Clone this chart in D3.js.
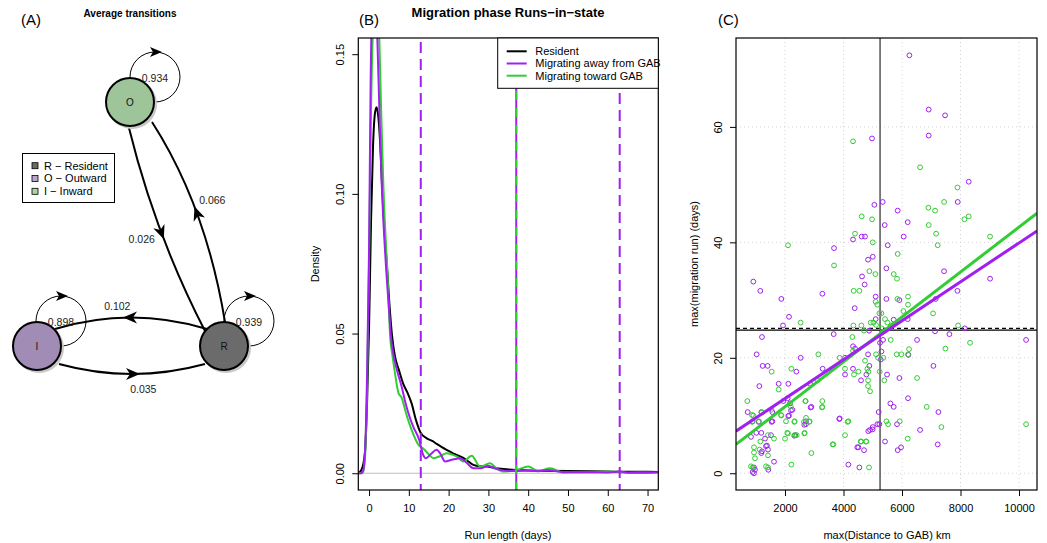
<!DOCTYPE html>
<html><head><meta charset="utf-8">
<script src="https://cdn.jsdelivr.net/npm/d3@7"></script>
<style>
body{margin:0;background:#fff;}
svg{display:block;font-family:"Liberation Sans",Arial,sans-serif;}
</style></head>
<body><svg id="c" width="1047" height="543"></svg>
<script>
// ---------------- DATA ----------------
// Panel A: transition probabilities
const stateNames = ["R", "O", "I"];
const legendLabels = ["R \u2212 Resident", "O \u2212 Outward", "I \u2212 Inward"];
const selfProb = {O: 0.934, I: 0.898, R: 0.939};
const transitions = [
  {from: "O", to: "R", p: 0.026},
  {from: "R", to: "O", p: 0.066},
  {from: "R", to: "I", p: 0.102},
  {from: "I", to: "R", p: 0.035}
];
// Panel B: run-length densities [days, density]
const residentDens = [[-2.7,0],[-2,0.001],[-1.5,0.003],[-1,0.008],[-0.5,0.025],[0,0.052],[0.5,0.09],[1,0.117],[1.5,0.129],[1.9,0.131],[2.3,0.128],[2.8,0.118],[3.3,0.102],[4,0.084],[4.6,0.072],[5.1,0.061],[5.8,0.049],[6.5,0.042],[7.5,0.037],[8.6,0.032],[9.6,0.029],[10.7,0.025],[11.8,0.019],[13,0.0144],[14.5,0.0125],[16,0.0115],[17,0.0105],[18.5,0.0092],[19.5,0.0084],[21,0.0072],[22,0.0066],[23.7,0.0055],[25,0.0042],[26.2,0.003],[28,0.0025],[29.6,0.0024],[32,0.0018],[34.6,0.0014],[40,0.001],[45,0.0009],[50,0.0008],[55,0.0007],[60,0.0006],[65,0.0005],[70,0.0005],[72.7,0.0004]];
const awayDens = [[-2.7,0],[-2,0],[-1.5,0.0008],[-1,0.008],[-0.5,0.035],[0,0.08],[0.4,0.14],[0.8,0.168],[1.3,0.176],[1.8,0.168],[2.2,0.15],[2.7,0.125],[3.2,0.103],[3.8,0.085],[4.3,0.073],[4.9,0.061],[5.5,0.049],[6.2,0.042],[7,0.037],[8.2,0.031],[9.2,0.025],[9.9,0.0215],[11.1,0.0167],[12.6,0.012],[13.6,0.0066],[14.3,0.0054],[15.5,0.0068],[17,0.0084],[18,0.0068],[19.1,0.0042],[20.8,0.0048],[22.9,0.0054],[24.5,0.0038],[26.2,0.0018],[28,0.0018],[30,0.0026],[31.5,0.0018],[32.9,0.0012],[35,0.0008],[37,0.0008],[40,0.001],[42.5,0.0007],[45,0.0012],[47.5,0.0006],[50,0.0004],[55,0.0004],[60,0.0003],[63,0.0006],[65,0.0002],[70,0.0002],[72.7,0.0004]];
const towardDens = [[-2.7,0],[-2,0],[-1.5,0.0005],[-1,0.006],[-0.5,0.03],[0,0.075],[0.5,0.13],[1,0.16],[1.5,0.172],[2,0.17],[2.5,0.16],[3,0.132],[3.6,0.103],[4.2,0.083],[4.6,0.073],[4.9,0.062],[5.3,0.049],[5.8,0.043],[6.4,0.037],[7.4,0.0287],[8.2,0.027],[9.3,0.0215],[10.7,0.0155],[12.4,0.0102],[13.8,0.0086],[15,0.0068],[16.2,0.0054],[18,0.0062],[19.5,0.0072],[21,0.0066],[22,0.006],[23.7,0.0042],[25.8,0.0063],[27.9,0.0024],[29,0.0028],[30.4,0.0036],[32,0.0018],[33.8,0.0006],[35.5,0.0008],[37.1,0.0012],[40,0.0024],[42.5,0.0008],[45.5,0.0018],[48.8,0.0002],[52,0.0003],[55,0.0003],[60,0.0006],[65,0.0002],[70,0.0003],[72.7,0.0002]];
const awayQuantiles = [13, 37, 63];
const towardQuantiles = [37];
const densLegend = ["Resident", "Migrating away from GAB", "Migrating toward GAB"];
const densTicksX = [0,10,20,30,40,50,60,70];
const densTicksY = [0, 0.05, 0.10, 0.15];
// Panel C: [max distance km, max migration run days]
const awayPoints = [[6252,72.4],[6913,63.0],[7472,62.0],[6913,58.5],[4975,58.0],[8281,50.5],[7905,47.0],[5340,47.0],[5055,46.5],[5853,45.5],[6195,43.5],[5409,43.0],[6058,41.0],[4326,40.5],[4622,41.0],[4736,41.0],[3676,39.0],[5512,39.5],[5000,37.5],[4839,37.0],[5466,35.5],[4633,34.1],[7438,35.0],[9011,33.7],
[917,33.2],[1156,31.6],[3277,31.1],[4724,32.7],[1875,30.2],[4383,28.6],[5100,30.6],[5466,30.2],[5910,30.0],[7153,30.2],[7894,31.6],[6195,26.7],[2137,27.1],[1932,25.6],[5100,26.7],[4873,24.7],[5716,26.6],[3664,24.1],[7130,24.6],[7620,24.1],[8145,25.1],[1213,23.6],[5352,23.1],[5249,22.6],[6514,23.1],[10242,23.1],[4326,22.0],[4394,21.6],[6218,20.5],[5295,21.1],[1031,20.6],[2536,20.0],[4052,20.0],[4839,20.6],[5272,19.7],[1236,18.6],[1407,18.6],[7073,18.6],[4884,18.6],[2388,17.6],[3288,18.1],[4326,18.1],[4052,17.1],[4782,17.1],[5488,17.1],[5910,16.5],[4599,16.1],[1784,15.5],[2114,15.5],[2855,15.5],[1122,15.1],[724,10.6],[895,9.0],[1191,10.6],[1567,10.6],[1567,9.0],[1943,12.5],[2091,13.0],[2171,12.1],[2251,11.0],[2137,10.0],[2718,8.5],[2718,9.0],[2901,11.5],[3870,9.5],[4907,7.5],[5000,8.0],[5158,8.5],[5226,8.5],[5203,10.6],[5602,12.1],[5716,11.5],[5830,8.5],[6207,13.0],[7244,10.6],[6617,7.5],[5420,5.5],[4508,4.5],[4702,4.0],[5853,4.0],[5967,4.5],[7221,5.0],[4166,1.5],[4542,1.0],[1624,2.0],[1020,7.0],[1191,7.0],[1316,6.0],[1384,4.8],[1191,3.5],[1418,4.1],[940,1.0],[974,0.6],[940,0.0],[1430,0.6],[2353,6.6],[1521,6.6],
[1100,8.9],[1544,8.9],[2113,9.9],[2204,10.9],[2876,11.4],[2660,8.4],[3856,9.4],[2318,6.5],[4471,4.5],[4847,7.3],[4995,7.6],[895,0.2],[1213,3.8],[1350,4.7],[837,6.3]];
const towardPoints = [[4326,57.5],[6617,53.0],[7894,49.5],[7438,47.0],[6902,46.0],[7130,45.5],[8133,44.0],[8281,44.5],[4622,44.5],[4975,44.0],[6913,43.0],[4394,41.5],[7165,41.5],[2103,39.5],[5000,40.0],[7221,39.5],[9011,41.0],[5853,38.0],[3676,36.0],[4884,35.0],[5089,34.5],[5716,34.5],[5830,33.7],
[4348,31.6],[4542,31.6],[5100,29.7],[5157,29.2],[5842,30.2],[6207,30.6],[6207,29.2],[7062,27.7],[6047,28.1],[2536,26.1],[5226,27.7],[5295,27.7],[5021,26.1],[5112,25.7],[4337,25.6],[4610,25.6],[4702,24.7],[4930,26.1],[5306,25.1],[5420,26.7],[5500,26.1],[5625,25.6],[7917,25.6],[4303,23.6],[5614,23.1],[8327,22.6],[4326,21.2],[7484,21.6],[6241,21.5],[6207,20.6],[3140,20.6],[3870,20.0],[5112,20.6],[5180,20.0],[5363,20.0],[4736,19.5],[5819,20.6],[5979,20.6],[1544,17.6],[2217,18.1],[4052,18.1],[4508,17.6],[4816,18.1],[4850,17.6],[5238,17.6],[4360,17.1],[6514,16.5],[4839,16.1],[5397,16.1],[3117,16.1],[1784,14.5],[4839,15.1],[4907,14.2],[712,12.5],[917,10.0],[1111,9.0],[1533,11.0],[1875,10.0],[2194,11.6],[2034,9.0],[2331,9.0],[2707,12.5],[2718,9.6],[2844,9.0],[3277,12.5],[3277,11.5],[4166,9.0],[5466,9.0],[5523,8.5],[5922,9.0],[6845,11.5],[7347,8.0],[10242,8.5],[3653,5.0],[4052,6.6],[4610,5.5],[4782,5.5],[6195,6.0],[2901,3.5],[2217,1.5],[4873,1.0],[1418,6.6],[1624,6.0],[1156,5.5],[940,4.5],[940,3.6],[1418,3.1],[1134,4.1],[974,2.6],[895,1.0],[1418,1.0],[2000,6.0],[2400,6.6],[2331,6.6],[2080,7.0],[2673,7.0],
[872,10.1],[872,8.9],[1202,10.5],[1863,10.1],[2318,8.9],[2694,12.5],[3264,11.4],[2830,8.9],[2648,8.9],[2660,6.9],[2102,6.9],[3628,5.0],[4585,5.5],[4767,5.5],[837,1.2],[1350,1.2],[4141,8.9]];
const awayFit = {intercept: 6.2, slope: 0.00337};
const towardFit = {intercept: 3.74, slope: 0.00389};
const medianDist = 5250;
const medianRun = 24.8;
const scatTicksX = [2000,4000,6000,8000,10000];
const scatTicksY = [0,20,40,60];

// ---------------- STYLE ----------------
const PURPLE = "#a020f0", GREEN = "#32cd32";
const svg = d3.select("#c");
const defs = svg.append("defs");

function rotY(sel, off){
  sel.selectAll(".tick text").attr("transform","rotate(-90)").attr("x",0).attr("y",-off)
     .attr("dy",0).attr("text-anchor","middle");
}
function styleAxis(g){
  g.select(".domain").remove();
  g.selectAll(".tick line").attr("stroke","#000");
  g.selectAll(".tick text").attr("fill","#000").style("font-size","11px").style("font-family","Liberation Sans, Arial, sans-serif");
}

// ================= PANEL A =================
const A = svg.append("g");
A.append("text").attr("x",21).attr("y",25).style("font-size","15px").text("(A)");
A.append("text").attr("x",130).attr("y",17).attr("text-anchor","middle").style("font-size","10px").style("font-weight","bold").text("Average transitions");

const nodePos = {O:{x:130,y:102}, I:{x:37,y:346}, R:{x:224,y:346}};
const nodeFill = {O:"#9ec49a", I:"#a18cb6", R:"#6b6b6b"};
const legendFill = {R:"#6b6b6b", O:"#b8a6d0", I:"#a9d4a2"};
const loopPos = {O:{x:155,y:77}, I:{x:61,y:321}, R:{x:249,y:321}};
const edgeGeom = {
  "O-R": {p0:[129,128], c:[155,234], p1:[205,331], lab:[141.7,239.3]},
  "R-O": {p0:[225,322], c:[206,206], p1:[152,122], lab:[212.3,200.3]},
  "R-I": {p0:[207,329], c:[131,306], p1:[55,329], lab:[117.3,306]},
  "I-R": {p0:[59,364], c:[132,384], p1:[205,364], lab:[143.3,389]}
};
const arrowPath = "M7,0 L-5,-5 L-2,0 L-5,5 Z";

// self loops
Object.keys(selfProb).forEach(k=>{
  const lp = loopPos[k];
  A.append("circle").attr("cx",lp.x).attr("cy",lp.y).attr("r",25).attr("fill","none").attr("stroke","#000").attr("stroke-width",1);
  A.append("path").attr("d",arrowPath).attr("transform",`translate(${lp.x},${lp.y-25})`).attr("fill","#000");
});
// edges
transitions.forEach(t=>{
  const g = edgeGeom[t.from+"-"+t.to];
  const p = d3.path(); p.moveTo(...g.p0); p.quadraticCurveTo(g.c[0],g.c[1],g.p1[0],g.p1[1]);
  A.append("path").attr("d",p.toString()).attr("fill","none").attr("stroke","#000").attr("stroke-width",2);
  const mx = 0.25*g.p0[0]+0.5*g.c[0]+0.25*g.p1[0], my = 0.25*g.p0[1]+0.5*g.c[1]+0.25*g.p1[1];
  const ang = Math.atan2(g.p1[1]-g.p0[1], g.p1[0]-g.p0[0])*180/Math.PI;
  A.append("path").attr("d","M8,0 L-6,-6 L-2,0 L-6,6 Z").attr("transform",`translate(${mx},${my}) rotate(${ang})`).attr("fill","#000");
  A.append("text").attr("x",g.lab[0]).attr("y",g.lab[1]).attr("dy","0.35em").attr("text-anchor","middle").style("font-size","10.5px").attr("fill","#222").text(t.p.toFixed(3));
});
// nodes
Object.keys(nodePos).forEach(k=>{
  const n = nodePos[k];
  A.append("circle").attr("cx",n.x+2).attr("cy",n.y+2).attr("r",25).attr("fill","#c8c8c8");
  A.append("circle").attr("cx",n.x).attr("cy",n.y).attr("r",24).attr("fill",nodeFill[k]).attr("stroke","#000").attr("stroke-width",2);
  A.append("text").attr("x",n.x).attr("y",n.y).attr("dy","0.35em").attr("text-anchor","middle").style("font-size","10px").attr("fill","#111").text(k);
});
// loop labels (drawn over nodes)
Object.keys(selfProb).forEach(k=>{
  const lp = loopPos[k];
  A.append("text").attr("x",lp.x).attr("y",lp.y+1).attr("dy","0.35em").attr("text-anchor","middle").style("font-size","10.5px").attr("fill","#222").text(selfProb[k].toFixed(3));
});
// legend
A.append("rect").attr("x",22.5).attr("y",153.5).attr("width",92).attr("height",49).attr("fill","#fff").attr("stroke","#000").attr("stroke-width",1);
stateNames.forEach((s,i)=>{
  const y = 165.7 + i*12.8;
  A.append("rect").attr("x",32).attr("y",y-3).attr("width",6).attr("height",6).attr("fill",legendFill[s]).attr("stroke","#000").attr("stroke-width",0.8);
  A.append("text").attr("x",44).attr("y",y).attr("dy","0.35em").style("font-size","11px").text(legendLabels[i]);
});

// ================= PANEL B =================
const bL=358.3, bR=658.3, bT=38, bB=490;
const xB = d3.scaleLinear().domain([-2.7,72.7]).range([bL,bR]);
const yB = d3.scaleLinear().domain([-0.006,0.1558]).range([bB,bT]);
const B = svg.append("g");
defs.append("clipPath").attr("id","clipB").append("rect").attr("x",bL).attr("y",bT).attr("width",bR-bL).attr("height",bB-bT);
B.append("text").attr("x",359).attr("y",25).style("font-size","15px").text("(B)");
B.append("text").attr("x",508).attr("y",17).attr("text-anchor","middle").style("font-size","13px").style("font-weight","bold").text("Migration phase Runs\u2212in\u2212state");
const Bc = B.append("g").attr("clip-path","url(#clipB)");
Bc.append("line").attr("x1",bL).attr("x2",bR).attr("y1",yB(0)).attr("y2",yB(0)).attr("stroke","#bebebe").attr("stroke-width",1);
const lineB = d3.line().x(d=>xB(d[0])).y(d=>yB(d[1])).curve(d3.curveMonotoneX);
Bc.append("path").attr("d",lineB(residentDens)).attr("fill","none").attr("stroke","#000").attr("stroke-width",2);
Bc.append("path").attr("d",lineB(towardDens)).attr("fill","none").attr("stroke",GREEN).attr("stroke-width",2);
Bc.append("path").attr("d",lineB(awayDens)).attr("fill","none").attr("stroke",PURPLE).attr("stroke-width",2);
awayQuantiles.forEach(q=>{
  const shared = towardQuantiles.includes(q);
  Bc.append("line").attr("x1",xB(q)).attr("x2",xB(q)).attr("y1",bT).attr("y2",bB).attr("stroke",PURPLE).attr("stroke-width",2)
    .attr("stroke-dasharray", shared ? null : "11,6").attr("stroke-dashoffset",-4);
});
towardQuantiles.forEach(q=>{
  Bc.append("line").attr("x1",xB(q)).attr("x2",xB(q)).attr("y1",bT).attr("y2",bB).attr("stroke",GREEN).attr("stroke-width",2).attr("stroke-dasharray","9,8").attr("stroke-dashoffset",-2);
});
// axes
const axBx = B.append("g").attr("transform",`translate(0,${bB})`).call(d3.axisBottom(xB).tickValues(densTicksX).tickSize(6).tickFormat(d3.format("d")));
styleAxis(axBx); axBx.selectAll(".tick text").attr("y",14);
const axBy = B.append("g").attr("transform",`translate(${bL},0)`).call(d3.axisLeft(yB).tickValues(densTicksY).tickSize(6).tickFormat(d3.format(".2f")));
styleAxis(axBy); rotY(axBy,14);
B.append("rect").attr("x",bL).attr("y",bT).attr("width",bR-bL).attr("height",bB-bT).attr("fill","none").attr("stroke","#000").attr("stroke-width",1.2);
B.append("text").attr("x",508).attr("y",539).attr("text-anchor","middle").style("font-size","11px").text("Run length (days)");
B.append("text").attr("transform",`translate(319,${(bT+bB)/2}) rotate(-90)`).attr("text-anchor","middle").style("font-size","11px").text("Density");
// legend
const lgB = B.append("g");
lgB.append("rect").attr("x",497.7).attr("y",bT).attr("width",bR-497.7).attr("height",50.3).attr("fill","#fff").attr("stroke","#000").attr("stroke-width",1);
const lgCols = ["#000", PURPLE, GREEN];
densLegend.forEach((t,i)=>{
  const y = 51.3 + i*12.2;
  lgB.append("line").attr("x1",506.7).attr("x2",526.7).attr("y1",y).attr("y2",y).attr("stroke",lgCols[i]).attr("stroke-width",2);
  lgB.append("text").attr("x",535.3).attr("y",y).attr("dy","0.35em").style("font-size","11px").text(t);
});

// ================= PANEL C =================
const cL=736, cR=1037, cT=38, cB=490;
const xC = d3.scaleLinear().domain([325,10615]).range([cL,cR]);
const yC = d3.scaleLinear().domain([-2.9,75.4]).range([cB,cT]);
const C = svg.append("g");
defs.append("clipPath").attr("id","clipC").append("rect").attr("x",cL).attr("y",cT).attr("width",cR-cL).attr("height",cB-cT);
C.append("text").attr("x",718).attr("y",25).style("font-size","15px").text("(C)");
// grid
scatTicksX.forEach(v=>C.append("line").attr("x1",xC(v)).attr("x2",xC(v)).attr("y1",cT).attr("y2",cB).attr("stroke","#d3d3d3").attr("stroke-width",1).attr("stroke-dasharray","1,3"));
scatTicksY.forEach(v=>C.append("line").attr("x1",cL).attr("x2",cR).attr("y1",yC(v)).attr("y2",yC(v)).attr("stroke","#d3d3d3").attr("stroke-width",1).attr("stroke-dasharray","1,3"));
const Cc = C.append("g").attr("clip-path","url(#clipC)");
Cc.append("line").attr("x1",xC(medianDist)).attr("x2",xC(medianDist)).attr("y1",cT).attr("y2",cB).attr("stroke","#555").attr("stroke-width",1.5);
Cc.append("line").attr("x1",cL).attr("x2",cR).attr("y1",yC(medianRun)).attr("y2",yC(medianRun)).attr("stroke","#000").attr("stroke-width",1.3);
Cc.append("line").attr("x1",cL).attr("x2",cR).attr("y1",yC(medianRun+0.3)).attr("y2",yC(medianRun+0.3)).attr("stroke","#000").attr("stroke-width",1.2).attr("stroke-dasharray","4,3");
Cc.selectAll("circle.away").data(awayPoints).enter().append("circle").attr("class","away")
  .attr("cx",d=>xC(d[0])).attr("cy",d=>yC(d[1])).attr("r",2.4).attr("fill","none").attr("stroke",PURPLE).attr("stroke-width",1);
Cc.selectAll("circle.toward").data(towardPoints).enter().append("circle").attr("class","toward")
  .attr("cx",d=>xC(d[0])).attr("cy",d=>yC(d[1])).attr("r",2.4).attr("fill","none").attr("stroke",GREEN).attr("stroke-width",1);
const dom = xC.domain();
[[towardFit,GREEN],[awayFit,PURPLE]].forEach(([f,col])=>{
  Cc.append("line").attr("x1",xC(dom[0])).attr("x2",xC(dom[1]))
    .attr("y1",yC(f.intercept+f.slope*dom[0])).attr("y2",yC(f.intercept+f.slope*dom[1]))
    .attr("stroke",col).attr("stroke-width",3);
});
const axCx = C.append("g").attr("transform",`translate(0,${cB})`).call(d3.axisBottom(xC).tickValues(scatTicksX).tickSize(6).tickFormat(d3.format("d")));
styleAxis(axCx); axCx.selectAll(".tick text").attr("y",14);
const axCy = C.append("g").attr("transform",`translate(${cL},0)`).call(d3.axisLeft(yC).tickValues(scatTicksY).tickSize(6).tickFormat(d3.format("d")));
styleAxis(axCy); rotY(axCy,14);
C.append("rect").attr("x",cL).attr("y",cT).attr("width",cR-cL).attr("height",cB-cT).attr("fill","none").attr("stroke","#000").attr("stroke-width",1.2);
C.append("text").attr("x",887).attr("y",539).attr("text-anchor","middle").style("font-size","11px").text("max(Distance to GAB) km");
C.append("text").attr("transform",`translate(698,${(cT+cB)/2}) rotate(-90)`).attr("text-anchor","middle").style("font-size","11px").text("max(migration run) (days)");
</script></body></html>
